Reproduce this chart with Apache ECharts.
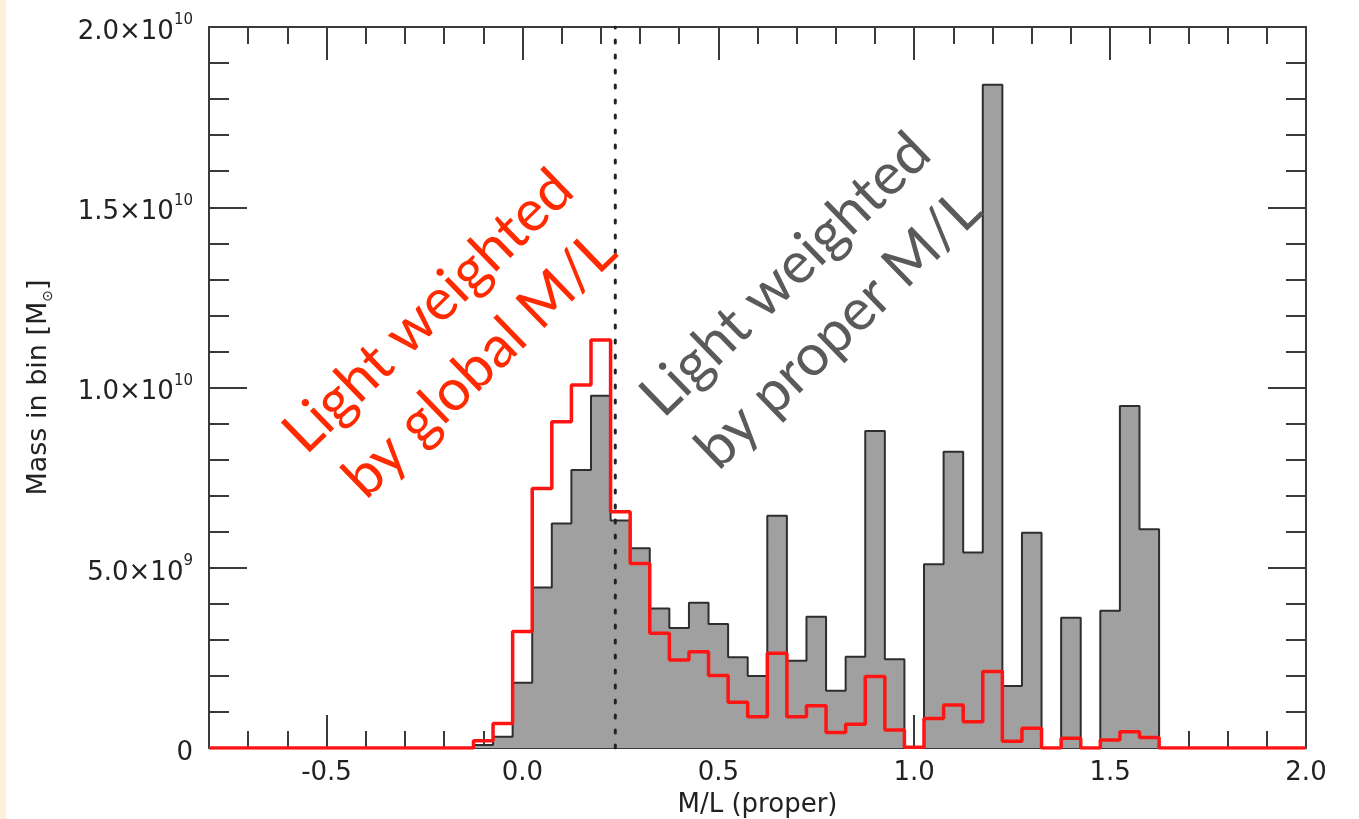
<!DOCTYPE html>
<html>
<head>
<meta charset="utf-8">
<title>Mass in bin vs M/L</title>
<script src="https://cdn.jsdelivr.net/npm/echarts@6/dist/echarts.min.js"></script>
<style>
  html, body { margin: 0; padding: 0; background: #ffffff; }
  #chart { width: 1359px; height: 819px; }
</style>
</head>
<body>
<div id="chart"></div>
<script>
// Histogram bin centres (M/L, proper), width 0.05
const binCenters = [
  -0.80, -0.75, -0.70, -0.65, -0.60, -0.55, -0.50, -0.45, -0.40, -0.35,
  -0.30, -0.25, -0.20, -0.15, -0.10, -0.05, 0.00, 0.05, 0.10, 0.15,
  0.20, 0.25, 0.30, 0.35, 0.40, 0.45, 0.50, 0.55, 0.60, 0.65,
  0.70, 0.75, 0.80, 0.85, 0.90, 0.95, 1.00, 1.05, 1.10, 1.15,
  1.20, 1.25, 1.30, 1.35, 1.40, 1.45, 1.50, 1.55, 1.60, 1.65,
  1.70, 1.75, 1.80, 1.85, 1.90, 1.95, 2.00
];

// Mass in bin (units of 1e9 Msun), light weighted by proper M/L
const massProperML = [
  0, 0, 0, 0, 0, 0, 0, 0, 0, 0,
  0, 0, 0, 0, 0.08, 0.31, 1.81, 4.45, 6.23, 7.71,
  9.77, 6.31, 5.54, 3.87, 3.33, 4.03, 3.44, 2.52, 2.00, 6.44,
  2.42, 3.64, 1.59, 2.53, 8.79, 2.46, 0, 5.10, 8.22, 5.42,
  18.40, 1.72, 5.97, 0, 3.61, 0, 3.81, 9.49, 6.07, 0,
  0, 0, 0, 0, 0, 0, 0
];

// Mass in bin (units of 1e9 Msun), light weighted by global M/L
const massGlobalML = [
  0, 0, 0, 0, 0, 0, 0, 0, 0, 0,
  0, 0, 0, 0, 0.20, 0.68, 3.23, 7.20, 9.05, 10.07,
  11.32, 6.55, 5.12, 3.18, 2.44, 2.67, 2.01, 1.27, 0.87, 2.63,
  0.87, 1.17, 0.43, 0.66, 1.98, 0.50, 0.02, 0.82, 1.19, 0.73,
  2.12, 0.19, 0.55, 0, 0.27, 0, 0.22, 0.45, 0.29, 0,
  0, 0, 0, 0, 0, 0, 0
];

// Global M/L value (dotted marker)
const globalML = 0.237;

// Axis ticks and labels
const xMajorTicks = [-0.5, 0.0, 0.5, 1.0, 1.5, 2.0];
const xTickLabels = ['-0.5', '0.0', '0.5', '1.0', '1.5', '2.0'];
const yMajorTicks = [0, 5, 10, 15, 20];
const yTickLabels = ['0', '5.0\u00d710{e|9}', '1.0\u00d710{e|10}', '1.5\u00d710{e|10}', '2.0\u00d710{e|10}'];

const AXIS_COLOR = '#3a3a3a';
const LABEL_FONT = 'DejaVu Sans';

const properSeries = binCenters.map((x, i) => [x, massProperML[i]]);
const globalSeries = binCenters.map((x, i) => [x, massGlobalML[i]]);

function xAxisDef(position, major) {
  const axis = {
    type: 'value', gridIndex: 0, position: position, offset: 0,
    min: -0.8, max: 2.0,
    splitLine: { show: false },
    axisLine: { show: major, onZero: false, lineStyle: { color: AXIS_COLOR, width: 2 } },
    axisTick: {
      show: true, inside: true,
      length: major ? 33 : 17,
      lineStyle: { color: AXIS_COLOR, width: 2 }
    },
    axisLabel: { show: false }
  };
  if (major) {
    axis.axisTick.customValues = xMajorTicks;
  } else {
    axis.interval = 0.1;
  }
  return axis;
}

function yAxisDef(position, major) {
  const axis = {
    type: 'value', gridIndex: 0, position: position, offset: 0,
    min: 0, max: 20,
    splitLine: { show: false },
    axisLine: { show: major, onZero: false, lineStyle: { color: AXIS_COLOR, width: 2 } },
    axisTick: {
      show: true, inside: true,
      length: major ? 38 : 20,
      lineStyle: { color: AXIS_COLOR, width: 2 }
    },
    axisLabel: { show: false }
  };
  if (major) {
    axis.axisTick.customValues = yMajorTicks;
  } else {
    axis.interval = 1;
  }
  return axis;
}

const xBottom = xAxisDef('bottom', true);
xBottom.axisLabel = {
  show: true,
  customValues: xMajorTicks,
  formatter: v => xTickLabels[xMajorTicks.findIndex(t => Math.abs(t - v) < 1e-9)],
  fontFamily: LABEL_FONT, fontSize: 26, color: '#222', margin: 12
};
xBottom.name = 'M/L (proper)';
xBottom.nameLocation = 'middle';
xBottom.nameGap = 44;
xBottom.nameTextStyle = { fontFamily: LABEL_FONT, fontSize: 26, color: '#222' };

const yLeft = yAxisDef('left', true);
yLeft.axisLabel = {
  show: true,
  customValues: yMajorTicks,
  formatter: v => yTickLabels[yMajorTicks.indexOf(v)],
  fontFamily: LABEL_FONT, fontSize: 26, color: '#222', margin: 16,
  lineHeight: 38, padding: [10, 0, 0, 0],
  rich: {
    e: { fontFamily: LABEL_FONT, fontSize: 15, lineHeight: 16, verticalAlign: 'top', color: '#222' }
  }
};
yLeft.name = 'Mass in bin [M{s|\u2299}]';
yLeft.nameLocation = 'middle';
yLeft.nameGap = 154;
yLeft.nameTextStyle = {
  fontFamily: LABEL_FONT, fontSize: 27, color: '#222', lineHeight: 32,
  rich: {
    s: { fontFamily: 'DejaVu Sans', fontSize: 14, lineHeight: 14, verticalAlign: 'bottom', color: '#222' }
  }
};

const chart = echarts.init(document.getElementById('chart'), null, { renderer: 'canvas' });

chart.setOption({
  backgroundColor: '#ffffff',
  animation: false,
  grid: { left: 209, right: 53, top: 27, bottom: 71, containLabel: false, outerBoundsMode: 'none' },
  xAxis: [
    xBottom,
    xAxisDef('bottom', false),
    xAxisDef('top', true),
    xAxisDef('top', false)
  ],
  yAxis: [
    yLeft,
    yAxisDef('left', false),
    yAxisDef('right', true),
    yAxisDef('right', false)
  ],
  series: [
    {
      name: 'proper M/L',
      type: 'line',
      xAxisIndex: 0, yAxisIndex: 0,
      data: properSeries,
      step: 'middle',
      symbol: 'none',
      z: 2,
      lineStyle: { color: '#2e2e2e', width: 2 },
      areaStyle: { color: '#a0a0a0', opacity: 1 }
    },
    {
      name: 'global M/L marker',
      type: 'line',
      xAxisIndex: 0, yAxisIndex: 0,
      data: [[globalML, 0], [globalML, 20]],
      symbol: 'none',
      z: 3,
      lineStyle: { color: '#222', width: 3, type: [3, 12], cap: 'round' }
    },
    {
      name: 'global M/L',
      type: 'line',
      xAxisIndex: 0, yAxisIndex: 0,
      data: globalSeries,
      step: 'middle',
      symbol: 'none',
      z: 4,
      lineStyle: { color: '#ff1414', width: 3.5 }
    }
  ],
  graphic: [
    {
      type: 'rect', left: 0, top: 0, z: -1,
      shape: { x: 0, y: 0, width: 6, height: 819 },
      style: { fill: '#fbf2d9' }
    },
    {
      type: 'text', x: 454, y: 338, rotation: 0.77, z: 10,
      style: {
        text: 'Light weighted\nby global M/L',
        fill: '#ff2a00', fontFamily: 'Lato', fontSize: 58, lineHeight: 74,
        align: 'center', verticalAlign: 'middle'
      }
    },
    {
      type: 'text', x: 812, y: 302, rotation: 0.77, z: 10,
      style: {
        text: 'Light weighted\nby proper M/L',
        fill: '#5a5a5a', fontFamily: 'Lato', fontSize: 58, lineHeight: 76,
        align: 'center', verticalAlign: 'middle'
      }
    }
  ]
});
</script>
</body>
</html>
